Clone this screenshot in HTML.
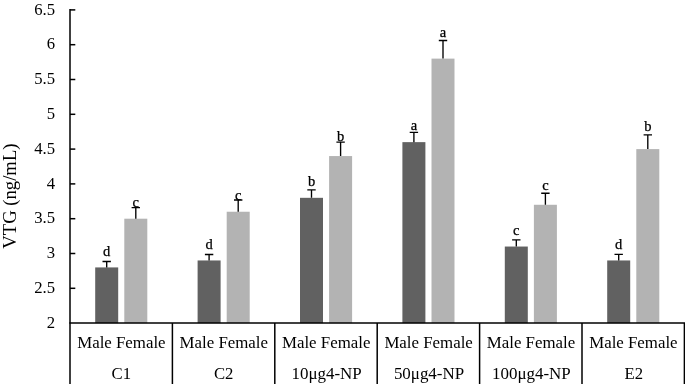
<!DOCTYPE html>
<html><head><meta charset="utf-8"><title>VTG chart</title>
<style>
html,body{margin:0;padding:0;background:#fff;}
body{width:685px;height:384px;overflow:hidden;}
svg text{font-family:"Liberation Serif","Times New Roman",serif;fill:#000;}
</style></head><body>
<svg width="685" height="384" viewBox="0 0 685 384" style="display:block">
<rect width="685" height="384" fill="#fff"/>
<rect x="95.20" y="267.42" width="23.0" height="55.68" fill="#616161"/>
<path d="M106.70 267.42V261.50M102.50 261.50H110.90" stroke="#000" stroke-width="1.35" fill="none"/>
<text x="106.70" y="255.90" font-size="14.5" text-anchor="middle" stroke="#000" stroke-width="0.25">d</text>
<rect x="124.30" y="218.70" width="23.0" height="104.40" fill="#b3b3b3"/>
<path d="M135.80 218.70V207.60M131.60 207.60H140.00" stroke="#000" stroke-width="1.35" fill="none"/>
<text x="135.80" y="207.40" font-size="14.5" text-anchor="middle" stroke="#000" stroke-width="0.25">c</text>
<rect x="197.60" y="260.46" width="23.0" height="62.64" fill="#616161"/>
<path d="M209.10 260.46V254.50M204.90 254.50H213.30" stroke="#000" stroke-width="1.35" fill="none"/>
<text x="209.10" y="248.75" font-size="14.5" text-anchor="middle" stroke="#000" stroke-width="0.25">d</text>
<rect x="226.70" y="211.74" width="23.0" height="111.36" fill="#b3b3b3"/>
<path d="M238.20 211.74V200.00M234.00 200.00H242.40" stroke="#000" stroke-width="1.35" fill="none"/>
<text x="238.20" y="200.00" font-size="14.5" text-anchor="middle" stroke="#000" stroke-width="0.25">c</text>
<rect x="300.00" y="197.82" width="23.0" height="125.28" fill="#616161"/>
<path d="M311.50 197.82V189.80M307.30 189.80H315.70" stroke="#000" stroke-width="1.35" fill="none"/>
<text x="311.50" y="185.80" font-size="14.5" text-anchor="middle" stroke="#000" stroke-width="0.25">b</text>
<rect x="329.10" y="156.06" width="23.0" height="167.04" fill="#b3b3b3"/>
<path d="M340.60 156.06V142.10M336.40 142.10H344.80" stroke="#000" stroke-width="1.35" fill="none"/>
<text x="340.60" y="141.00" font-size="14.5" text-anchor="middle" stroke="#000" stroke-width="0.25">b</text>
<rect x="402.40" y="142.14" width="23.0" height="180.96" fill="#616161"/>
<path d="M413.90 142.14V132.30M409.70 132.30H418.10" stroke="#000" stroke-width="1.35" fill="none"/>
<text x="413.90" y="130.20" font-size="14.5" text-anchor="middle" stroke="#000" stroke-width="0.25">a</text>
<rect x="431.50" y="58.62" width="23.0" height="264.48" fill="#b3b3b3"/>
<path d="M443.00 58.62V40.50M438.80 40.50H447.20" stroke="#000" stroke-width="1.35" fill="none"/>
<text x="443.00" y="37.30" font-size="14.5" text-anchor="middle" stroke="#000" stroke-width="0.25">a</text>
<rect x="504.80" y="246.54" width="23.0" height="76.56" fill="#616161"/>
<path d="M516.30 246.54V239.80M512.10 239.80H520.50" stroke="#000" stroke-width="1.35" fill="none"/>
<text x="516.30" y="234.60" font-size="14.5" text-anchor="middle" stroke="#000" stroke-width="0.25">c</text>
<rect x="533.90" y="204.78" width="23.0" height="118.32" fill="#b3b3b3"/>
<path d="M545.40 204.78V193.20M541.20 193.20H549.60" stroke="#000" stroke-width="1.35" fill="none"/>
<text x="545.40" y="189.60" font-size="14.5" text-anchor="middle" stroke="#000" stroke-width="0.25">c</text>
<rect x="607.20" y="260.46" width="23.0" height="62.64" fill="#616161"/>
<path d="M618.70 260.46V254.30M614.50 254.30H622.90" stroke="#000" stroke-width="1.35" fill="none"/>
<text x="618.70" y="248.70" font-size="14.5" text-anchor="middle" stroke="#000" stroke-width="0.25">d</text>
<rect x="636.30" y="149.10" width="23.0" height="174.00" fill="#b3b3b3"/>
<path d="M647.80 149.10V134.80M643.60 134.80H652.00" stroke="#000" stroke-width="1.35" fill="none"/>
<text x="647.80" y="131.20" font-size="14.5" text-anchor="middle" stroke="#000" stroke-width="0.25">b</text>
<path d="M70.0 9V384" stroke="#000" stroke-width="1.5" fill="none"/>
<path d="M69.35 323.1H685.05" stroke="#000" stroke-width="1.5" fill="none"/>
<path d="M172.40 323.1V384" stroke="#000" stroke-width="1.5" fill="none"/>
<path d="M274.80 323.1V384" stroke="#000" stroke-width="1.5" fill="none"/>
<path d="M377.20 323.1V384" stroke="#000" stroke-width="1.5" fill="none"/>
<path d="M479.60 323.1V384" stroke="#000" stroke-width="1.5" fill="none"/>
<path d="M582.00 323.1V384" stroke="#000" stroke-width="1.5" fill="none"/>
<path d="M684.40 323.1V384" stroke="#000" stroke-width="1.5" fill="none"/>
<path d="M70.0 9.90H75.3" stroke="#000" stroke-width="1.5" fill="none"/>
<text x="55" y="14.60" font-size="16.7" text-anchor="end">6.5</text>
<path d="M70.0 44.70H75.3" stroke="#000" stroke-width="1.5" fill="none"/>
<text x="55" y="49.40" font-size="16.7" text-anchor="end">6</text>
<path d="M70.0 79.50H75.3" stroke="#000" stroke-width="1.5" fill="none"/>
<text x="55" y="84.20" font-size="16.7" text-anchor="end">5.5</text>
<path d="M70.0 114.30H75.3" stroke="#000" stroke-width="1.5" fill="none"/>
<text x="55" y="119.00" font-size="16.7" text-anchor="end">5</text>
<path d="M70.0 149.10H75.3" stroke="#000" stroke-width="1.5" fill="none"/>
<text x="55" y="153.80" font-size="16.7" text-anchor="end">4.5</text>
<path d="M70.0 183.90H75.3" stroke="#000" stroke-width="1.5" fill="none"/>
<text x="55" y="188.60" font-size="16.7" text-anchor="end">4</text>
<path d="M70.0 218.70H75.3" stroke="#000" stroke-width="1.5" fill="none"/>
<text x="55" y="223.40" font-size="16.7" text-anchor="end">3.5</text>
<path d="M70.0 253.50H75.3" stroke="#000" stroke-width="1.5" fill="none"/>
<text x="55" y="258.20" font-size="16.7" text-anchor="end">3</text>
<path d="M70.0 288.30H75.3" stroke="#000" stroke-width="1.5" fill="none"/>
<text x="55" y="293.00" font-size="16.7" text-anchor="end">2.5</text>
<text x="55" y="327.80" font-size="16.7" text-anchor="end">2</text>
<text x="121.40" y="347.6" font-size="16.85" text-anchor="middle">Male Female</text>
<text x="121.30" y="378.6" font-size="16.7" text-anchor="middle">C1</text>
<text x="223.80" y="347.6" font-size="16.85" text-anchor="middle">Male Female</text>
<text x="223.70" y="378.6" font-size="16.7" text-anchor="middle">C2</text>
<text x="326.20" y="347.6" font-size="16.85" text-anchor="middle">Male Female</text>
<text x="326.60" y="378.6" font-size="16.95" text-anchor="middle">10μg4-NP</text>
<text x="428.60" y="347.6" font-size="16.85" text-anchor="middle">Male Female</text>
<text x="429.00" y="378.6" font-size="16.95" text-anchor="middle">50μg4-NP</text>
<text x="531.00" y="347.6" font-size="16.85" text-anchor="middle">Male Female</text>
<text x="531.40" y="378.6" font-size="16.95" text-anchor="middle">100μg4-NP</text>
<text x="633.40" y="347.6" font-size="16.85" text-anchor="middle">Male Female</text>
<text x="633.80" y="378.6" font-size="16.7" text-anchor="middle">E2</text>
<text transform="translate(16.2 196.1) rotate(-90)" font-size="18.67" text-anchor="middle">VTG (ng/mL)</text>
</svg>
</body></html>
